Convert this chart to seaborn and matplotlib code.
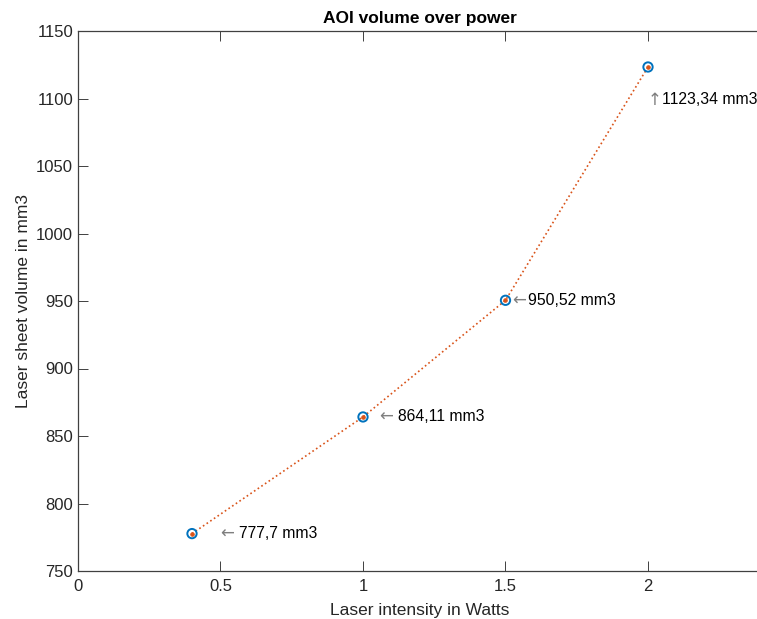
import matplotlib
matplotlib.use("Agg")
import matplotlib.pyplot as plt
import seaborn as sns
import pandas as pd

power = [0.4, 1.0, 1.5, 2.0]
volume = [777.7, 864.11, 950.52, 1123.34]
labels = ["777,7 mm3", "864,11 mm3", "950,52 mm3", "1123,34 mm3"]
arrows = ["\u2190", "\u2190", "\u2190", "\u2191"]
label_x = [0.498, 1.056, 1.524, 2.0]
label_y = [777.7, 864.11, 950.52, 1099.0]
text_gap = [19, 19, 16, 14]

sns.set_theme(style="white")
plt.rcParams['font.family'] = ['Liberation Sans', 'DejaVu Sans']

df = pd.DataFrame({"power": power, "volume": volume})

fig = plt.figure(figsize=(7.57, 6.19), dpi=100)
ax = fig.add_axes([78/757, 48/619, 684/757, 540/619])

sns.lineplot(data=df, x="power", y="volume", ax=ax, color="#D95319",
             linestyle=":", linewidth=1.2, marker=".", markersize=5,
             markeredgecolor="#D95319")
sns.scatterplot(data=df, x="power", y="volume", ax=ax, marker="o", s=45,
                facecolor="none", edgecolor="#0072BD", linewidth=1.4, zorder=3)

for x, y, a, t, g in zip(label_x, label_y, arrows, labels, text_gap):
    ax.text(x, y, a, fontsize=12, va="center", ha="left", color="#7f7f7f",
            family=["DejaVu Sans"])
    ax.annotate(t, xy=(x, y), xytext=(g, 0), textcoords="offset pixels",
                fontsize=11.3, va="center", ha="left", color="black")

ax.set_xlim(0, 2.4)
ax.set_ylim(750, 1150)
ax.set_xticks([0, 0.5, 1, 1.5, 2])
ax.set_xticklabels(["0", "0.5", "1", "1.5", "2"])
ax.set_yticks(range(750, 1151, 50))
ax.set_xlabel("Laser intensity in Watts", fontsize=12.5, color="#262626", labelpad=6)
ax.set_ylabel("Laser sheet volume in mm3", fontsize=12.5, color="#262626")
ax.set_title("AOI volume over power", fontsize=12.5, fontweight="bold", color="black")
for s in ax.spines.values():
    s.set_color("#404040")
    s.set_linewidth(0.9)
ax.spines["right"].set_visible(False)
ax.tick_params(direction="in", length=7, width=0.7, labelsize=12, colors="#404040",
               top=True, right=False, bottom=True, left=True)
ax.tick_params(axis="x", pad=6)
ax.tick_params(axis="both", labelcolor="#262626")

fig.savefig("out.png", dpi=100)
